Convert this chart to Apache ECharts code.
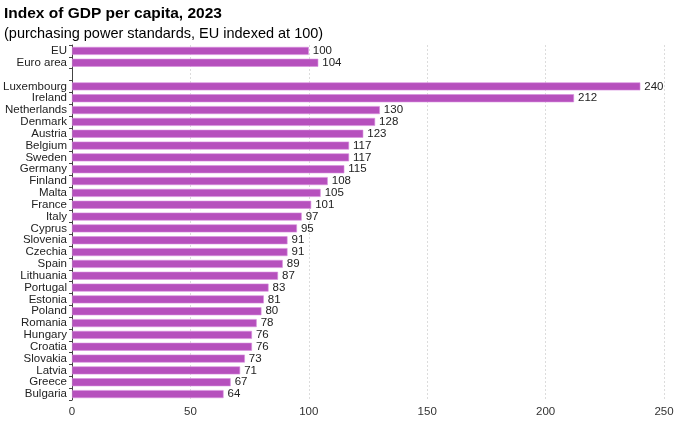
<!DOCTYPE html>
<html><head><meta charset="utf-8">
<script src="https://cdn.jsdelivr.net/npm/echarts@6/dist/echarts.min.js"></script>
<style>html,body{margin:0;padding:0;background:#fff;}#c{width:681px;height:430px;}</style>
</head><body><div id="c"></div>
<script>
const categories = ['EU','Euro area','','Luxembourg','Ireland','Netherlands','Denmark','Austria','Belgium','Sweden','Germany','Finland','Malta','France','Italy','Cyprus','Slovenia','Czechia','Spain','Lithuania','Portugal','Estonia','Poland','Romania','Hungary','Croatia','Slovakia','Latvia','Greece','Bulgaria'];
const values = [100,104,null,240,212,130,128,123,117,117,115,108,105,101,97,95,91,91,89,87,83,81,80,78,76,76,73,71,67,64];
const xTicks = [0,50,100,150,200,250];

const chart = echarts.init(document.getElementById('c'));
const font = 'Liberation Sans, Arial, sans-serif';
chart.setOption({
  animation:false,
  title:{text:'Index of GDP per capita, 2023', subtext:'(purchasing power standards, EU indexed at 100)',
    left:0, top:1, itemGap:4, padding:[5,4],
    textStyle:{fontFamily:font,fontSize:15.5,fontWeight:'bold',color:'#000'},
    subtextStyle:{fontFamily:font,fontSize:14.5,color:'#000'}},
  grid:{left:72,right:17,top:45,bottom:30,containLabel:false},
  xAxis:{type:'value',min:xTicks[0],max:xTicks[xTicks.length-1],interval:50,
    axisLine:{show:false},axisTick:{show:false},
    axisLabel:{fontFamily:font,fontSize:11.5,color:'#333',margin:6},
    splitLine:{show:true,lineStyle:{color:'#dcdcdc',type:[2,2],width:1}}},
  yAxis:{type:'category',data:categories,inverse:true,
    axisLine:{show:true,lineStyle:{color:'#444',width:1}},
    axisTick:{show:true,length:3,lineStyle:{color:'#444'}},
    axisLabel:{fontFamily:font,fontSize:11.5,color:'#222',margin:5,interval:0}},
  series:[{type:'bar',data:values,barWidth:8,
    itemStyle:{color:'#b650bd',borderColor:'#d98fdf',borderWidth:0.6},
    label:{show:true,position:'right',distance:4,fontFamily:font,fontSize:11.5,color:'#222'}}]
});
</script></body></html>
